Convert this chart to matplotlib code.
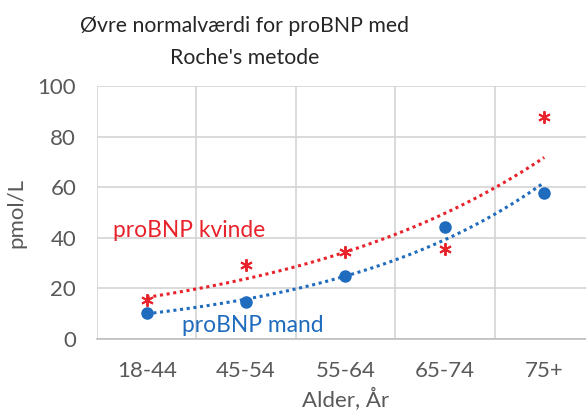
import numpy as np
import matplotlib
matplotlib.use("Agg")
import matplotlib.pyplot as plt

# =============================
# DATA
# =============================
age_groups = ["18-44", "45-54", "55-64", "65-74", "75+"]
kvinde = [15.4, 29.2, 34.4, 35.6, 87.7]
mand = [10.3, 14.6, 24.9, 44.3, 57.7]

RED = "#E8232B"
BLUE = "#1F6BBE"
GRAY = "#595959"

plt.rcParams["font.family"] = ["Lato", "DejaVu Sans"]

x = np.arange(1, len(age_groups) + 1)


def exp_trend(xs, ys):
    # Excel-style exponential trendline: fit on log values
    b, a = np.polyfit(xs, np.log(ys), 1)
    xf = np.linspace(xs[0], xs[-1], 100)
    return xf, np.exp(a + b * xf)


# =============================
# FIGURE
# =============================
fig = plt.figure(figsize=(5.86, 4.12), dpi=100)
ax = fig.add_axes([0.1655, 0.177, 0.848, 0.614])

xf, yf = exp_trend(x, kvinde)
ax.plot(xf, yf, color=RED, linestyle=(0, (1, 1.2)), linewidth=2.2, zorder=3)
xf, yf = exp_trend(x, mand)
ax.plot(xf, yf, color=BLUE, linestyle=(0, (1, 1.2)), linewidth=2.2, zorder=3)

ax.plot(x, kvinde, linestyle="none", marker=(6, 2, 0), markersize=9,
        markeredgecolor=RED, markeredgewidth=1.4, zorder=4)
ax.plot(x, mand, linestyle="none", marker="o", markersize=8,
        color=BLUE, zorder=4)

ax.text(0.66, 43, "proBNP kvinde", color=RED, fontsize=16.4, va="center")
ax.text(1.36, 5.5, "proBNP mand", color=BLUE, fontsize=16.4, va="center")

ax.set_xlim(0.5, 5.5)
ax.set_ylim(0, 100)
ax.set_yticks(range(0, 101, 20))
ax.set_xticks(x)
ax.set_xticklabels(age_groups)
ax.set_xticks(np.arange(0.5, 5.6, 1), minor=True)

ax.grid(True, which="minor", axis="x", color="#D4D4D4", linewidth=1.2)
ax.grid(True, which="major", axis="y", color="#D4D4D4", linewidth=1.2)
ax.set_axisbelow(True)

for side in ["top", "right", "left"]:
    ax.spines[side].set_visible(False)
ax.spines["bottom"].set_color("#BFBFBF")
ax.spines["bottom"].set_linewidth(1.2)

ax.tick_params(axis="both", which="both", length=0, labelsize=16,
               labelcolor=GRAY)
ax.tick_params(axis="x", pad=16)
ax.tick_params(axis="y", pad=15)

ax.set_ylabel("pmol/L", fontsize=16, color=GRAY, labelpad=8)
ax.set_xlabel("Alder, År", fontsize=16, color=GRAY, labelpad=5)

fig.text(0.418, 0.899, "Øvre normalværdi for proBNP med\nRoche's metode",
         ha="center", va="center", fontsize=15.3, color="#262626",
         linespacing=1.75)

fig.savefig("out.png", dpi=100)
